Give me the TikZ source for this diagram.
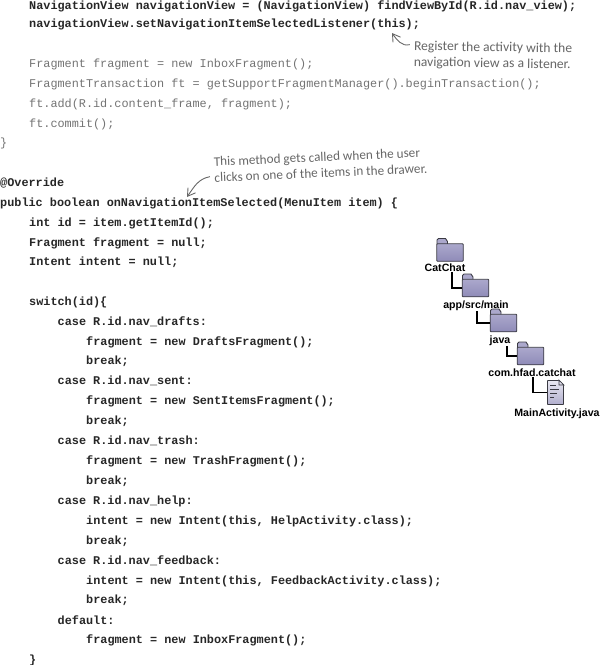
\documentclass[tikz,border=0pt]{standalone}
\usepackage{fontspec}
\setmonofont{Liberation Mono}
\setsansfont{Liberation Sans}
\newfontfamily\handfont{Carlito}
\usepackage{xcolor}
\usetikzlibrary{arrows.meta, positioning}
\definecolor{foldertop}{HTML}{ABA8CC}
\definecolor{folderfill}{HTML}{8F8BB8}
\definecolor{folderedge}{HTML}{3A3A42}
\definecolor{inkgray}{HTML}{666666}

\begin{document}
\begin{tikzpicture}[
  x=1pt, y=-1pt,
  code/.style={anchor=west, inner sep=0pt, font=\fontsize{11.84}{14}\ttfamily\bfseries, text=black!85},
  faded/.style={anchor=west, inner sep=0pt, font=\fontsize{11.84}{14}\ttfamily, text=black!55},
  note/.style={align=left, inner sep=0pt, font=\fontsize{13.6}{16}\handfont, text=inkgray},
  arr/.style={-{Straight Barb[length=2.6mm,width=3.2mm]}, inkgray, line width=0.9pt},
  folder/.style={draw=folderedge, line width=0.9pt, top color=foldertop, bottom color=folderfill,
                 rounded corners=0.8pt, minimum width=26.5pt, minimum height=17.5pt, inner sep=0pt},
  tab/.style={draw=folderedge, line width=0.9pt, fill=foldertop},
  filedoc/.style={draw=folderedge, line width=0.9pt, top color=folderfill!20, bottom color=folderfill!70,
                  rounded corners=0.6pt, minimum width=16pt, minimum height=24pt, inner sep=0pt},
  lbl/.style={inner sep=0pt, font=\fontsize{10.6}{12}\sffamily\bfseries},
  link/.style={line width=1.1pt, black}
]
\useasboundingbox (0,0) rectangle (600,665);
% code above the drawer listener
\node[code] (ln1) at (29,6) {NavigationView navigationView = (NavigationView) findViewById(R.id.nav\_view);};
\node[code] (ln2) at (29,24.5) {navigationView.setNavigationItemSelectedListener(this);};
\node[faded] (ln3) at (29,64) {Fragment fragment = new InboxFragment();};
\node[faded] (ln4) at (29,84) {FragmentTransaction ft = getSupportFragmentManager().beginTransaction();};
\node[faded] (ln5) at (29,104) {ft.add(R.id.content\_frame, fragment);};
\node[faded] (ln6) at (29,124) {ft.commit();};
\node[faded] (ln7) at (0,143) {\}};
% the method
\node[code] (ln8) at (0,183) {@Override};
\node[code] (ln9) at (0,203) {public boolean onNavigationItemSelected(MenuItem item) \{};
\node[code] (ln10) at (29,223) {int id = item.getItemId();};
\node[code] (ln11) at (29,243) {Fragment fragment = null;};
\node[code] (ln12) at (29,262) {Intent intent = null;};
\node[code] (ln13) at (29,302) {switch(id)\{};
\node[code] (ln14) at (57.5,322) {case R.id.nav\_drafts:};
\node[code] (ln15) at (86,342) {fragment = new DraftsFragment();};
\node[code] (ln16) at (86,361) {break;};
\node[code] (ln17) at (57.5,381) {case R.id.nav\_sent:};
\node[code] (ln18) at (86,401) {fragment = new SentItemsFragment();};
\node[code] (ln19) at (86,421) {break;};
\node[code] (ln20) at (57.5,441) {case R.id.nav\_trash:};
\node[code] (ln21) at (86,461) {fragment = new TrashFragment();};
\node[code] (ln22) at (86,481) {break;};
\node[code] (ln23) at (57.5,501) {case R.id.nav\_help:};
\node[code] (ln24) at (86,521) {intent = new Intent(this, HelpActivity.class);};
\node[code] (ln25) at (86,541) {break;};
\node[code] (ln26) at (57.5,561) {case R.id.nav\_feedback:};
\node[code] (ln27) at (86,581) {intent = new Intent(this, FeedbackActivity.class);};
\node[code] (ln28) at (86,600) {break;};
\node[code] (ln29) at (57.5,620) {default:};
\node[code] (ln30) at (86,640) {fragment = new InboxFragment();};
\node[code] (ln31) at (29,660) {\}};

% handwritten notes
\node[note, rotate=-1] (noteA) at (493,56) {Register the activity with the\\navigation view as a listener.};
\node[note, rotate=2.5, font=\fontsize{13.2}{16}\handfont] (noteB) at (320.5,165) {This method gets called when the user\\clicks on one of the items in the drawer.};
\coordinate (tipA) at (392,33);
\coordinate (tipB) at (187,197);
\draw[arr] (noteA.west) ++(-4,-10) to[out=195,in=-55] (tipA);
\draw[arr] (noteB.west) ++(-4,7) to[out=190,in=55] (tipB);

% project tree
\foreach \name/\px/\py in {catchat/450/252.5, appsrc/475.5/288, java/503.5/323, hfad/530.5/356}{
  \draw[tab] (\px-13,\py-8.5) -- ++(0,-4) -- ++(1.5,-1.5) -- ++(7,0) -- ++(2,3) -- ++(0,2.5);
  \node[folder] (\name) at (\px,\py) {};
}
\node[filedoc] (mainfile) at (555.5,392.5) {};
\fill[white] (mainfile.north east) ++(-5,-0.5) -- ++(5.5,5.5) -- ++(0,-5.5) -- cycle;
\draw[folderedge, line width=0.8pt, fill=folderfill!30] (mainfile.north east) ++(-5,0) -- ++(0,5) -- ++(5,0) -- cycle;
\draw[folderedge, line width=0.5pt] (mainfile.north west) ++(3,5) -- ++(6,0) ++(-6,4) -- ++(9,0) ++(-9,4) -- ++(7,0) ++(-7,4) -- ++(4,0);
\node[lbl] (lblcat) at (445,268) {CatChat};
\node[lbl] (lblapp) at (476,306) {app/src/main};
\node[lbl] (lbljava) at (500,341) {java};
\node[lbl] (lblhfad) at (532,373) {com.hfad.catchat};
\node[lbl] (lblmain) at (557,414) {MainActivity.java};

\draw[link] (lblcat.south) ++(7,0) |- (appsrc.west);
\draw[link] (lblapp.south) ++(1,0) |- (java.west);
\draw[link] (lbljava.south) ++(7,0) |- (hfad.west);
\draw[link] (lblhfad.south) ++(1,0) |- (mainfile.west);
\end{tikzpicture}
\end{document}
